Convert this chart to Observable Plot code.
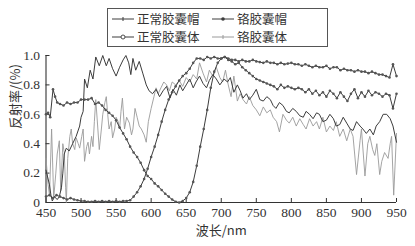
<!DOCTYPE html>
<html>
<head>
<meta charset="utf-8">
<script src="https://cdn.jsdelivr.net/npm/d3@7"></script>
<script src="https://cdn.jsdelivr.net/npm/@observablehq/plot@0.6"></script>
<style>
  body { margin: 0; background: #fff; }
  #wrap { width: 415px; height: 246px; position: relative; overflow: hidden; }
  #legend { position: relative; height: 48px; width: 415px; }
  #legendBox { position: absolute; left: 107px; top: 8px; width: 221px; height: 39px; border: 1px solid #555; box-sizing: border-box; }
  .item { position: absolute; display: flex; align-items: center; font-family: "Noto Sans CJK SC", sans-serif; font-size: 12.5px; color: #333; line-height: 14px; height: 14px; }
  .item svg { margin-right: 3px; }
</style>
</head>
<body>
<div id="wrap">
  <div id="legend"><div id="legendBox"></div></div>
  <div id="chart"></div>
</div>
<script>
// ---------- data ----------
const seriesNames = ["正常胶囊帽", "铬胶囊帽", "正常胶囊体", "铬胶囊体"];
const xTicks = [450, 500, 550, 600, 650, 700, 750, 800, 850, 900, 950];
const yTicks = [0, 0.2, 0.4, 0.6, 0.8, 1.0];

// 正常胶囊帽 (dark, noisy)
const capNormalWl = [450,452,455,457,459,462,466,469,472,474,476,479,483,488,493,498,500,503,505,509,513,517,521,526,531,536,540,545,550,555,560,564,568,571,574,578,583,588,593,597,602,607,612,617,622,627,631,636,641,645,650,655,660,664,669,674,679,683,688,693,698,704,709,713,718,723,727,731,736,740,745,750,755,760,765,770,774,778,783,788,793,797,802,807,812,817,821,826,831,836,840,845,850,855,860,864,869,874,879,884,888,893,898,902,907,912,917,921,926,931,936,941,945,950];
const capNormalR = [0.22,0.18,0.12,0.05,0.01,0.04,0.02,0.04,0.10,0.20,0.33,0.37,0.35,0.40,0.45,0.52,0.58,0.62,0.84,0.78,0.90,0.84,0.99,0.93,1.00,0.93,0.98,0.91,0.86,0.92,0.97,1.00,0.95,0.87,0.98,0.90,0.96,0.88,0.80,0.76,0.74,0.77,0.72,0.76,0.79,0.71,0.77,0.73,0.80,0.76,0.80,0.84,0.78,0.82,0.86,0.81,0.78,0.83,0.87,0.84,0.80,0.84,0.82,0.85,0.75,0.80,0.76,0.71,0.74,0.70,0.73,0.77,0.70,0.69,0.72,0.70,0.66,0.64,0.68,0.66,0.62,0.61,0.64,0.62,0.59,0.58,0.62,0.60,0.57,0.61,0.60,0.55,0.56,0.60,0.57,0.52,0.53,0.58,0.54,0.50,0.49,0.55,0.52,0.50,0.47,0.50,0.46,0.52,0.55,0.60,0.60,0.57,0.52,0.41];

// 铬胶囊帽 (dotted markers)
const capCrWl = [450,453,456,460,463,466,470,475,480,485,490,495,500,505,510,515,520,525,530,535,540,545,550,555,560,565,570,575,580,585,590,595,600,605,610,615,620,625,630,635,640,645,650,655,660,665,670,675,680,685,690,695,700,705,710,715,720,725,730,735,740,745,750,755,760,765,770,775,780,785,790,795,800,805,810,815,820,825,830,835,840,845,850,855,860,865,870,875,880,885,890,895,900,905,910,915,920,925,930,935,940,945,950];
const capCrR = [0.60,0.61,0.58,0.77,0.72,0.68,0.67,0.66,0.68,0.67,0.68,0.68,0.70,0.70,0.70,0.71,0.67,0.68,0.66,0.63,0.61,0.59,0.56,0.51,0.47,0.43,0.38,0.34,0.31,0.27,0.22,0.18,0.16,0.13,0.11,0.085,0.06,0.04,0.02,0.005,0.0,0.01,0.03,0.07,0.14,0.25,0.38,0.50,0.63,0.78,0.89,0.95,0.98,0.99,0.97,0.96,0.94,0.95,0.92,0.90,0.88,0.86,0.84,0.83,0.82,0.81,0.80,0.79,0.77,0.80,0.78,0.79,0.78,0.77,0.78,0.77,0.75,0.77,0.74,0.76,0.73,0.75,0.72,0.76,0.74,0.71,0.75,0.72,0.69,0.74,0.77,0.71,0.75,0.72,0.76,0.73,0.75,0.74,0.72,0.74,0.73,0.64,0.74];

// 正常胶囊体 (circle markers)
const bodyNormalWl = [450,455,460,465,470,475,480,485,490,495,500,505,510,515,520,525,530,535,540,545,550,555,560,565,570,575,580,585,590,595,600,605,610,615,620,625,630,635,640,645,650,655,660,665,670,675,680,685,690,695,700,705,710,715,720,725,730,735,740,745,750,755,760,765,770,775,780,785,790,795,800,805,810,815,820,825,830,835,840,845,850,855,860,865,870,875,880,885,890,895,900,905,910,915,920,925,930,935,940,945,950];
const bodyNormalR = [0.04,0.05,0.03,0.05,0.04,0.03,0.02,0.03,0.02,0.015,0.01,0.01,0.005,0.005,0.01,0.005,0.01,0.005,0.01,0.005,0.01,0.005,0.01,0.01,0.015,0.04,0.07,0.11,0.16,0.23,0.31,0.38,0.46,0.55,0.63,0.70,0.75,0.79,0.83,0.86,0.88,0.91,0.95,0.98,0.98,0.97,0.99,0.98,0.99,0.98,0.98,0.99,0.98,0.97,0.97,0.96,0.97,0.96,0.96,0.97,0.96,0.955,0.95,0.96,0.95,0.95,0.94,0.95,0.94,0.945,0.95,0.94,0.94,0.93,0.94,0.93,0.92,0.93,0.92,0.92,0.93,0.91,0.92,0.92,0.90,0.91,0.90,0.90,0.89,0.90,0.89,0.89,0.88,0.89,0.88,0.87,0.87,0.86,0.85,0.94,0.86];

// 铬胶囊体 (light, noisy)
const bodyCrWl = [450,453,455,458,461,464,466,469,471,474,476,478,479,481,484,486,488,491,493,496,498,501,503,505,508,510,512,515,517,519,521,524,526,529,531,534,536,538,540,543,545,548,550,553,555,557,559,562,565,569,572,574,577,580,583,586,590,593,596,600,604,607,610,614,618,622,626,630,635,640,645,650,655,660,665,669,674,679,683,688,693,698,702,706,710,714,718,723,727,731,736,740,745,750,755,760,765,770,774,779,783,788,793,797,802,807,812,817,821,826,831,836,840,845,850,855,860,864,869,874,879,884,888,893,898,900,905,909,912,916,919,922,926,929,933,938,941,943,946,950];
const bodyCrR = [0.30,0.12,0.05,0.50,0.03,0.20,0.33,0.42,0.08,0.40,0.34,0.10,0.0,0.30,0.45,0.50,0.40,0.36,0.44,0.40,0.37,0.45,0.50,0.28,0.38,0.41,0.33,0.45,0.38,0.55,0.70,0.50,0.36,0.50,0.60,0.68,0.72,0.60,0.50,0.55,0.44,0.50,0.58,0.55,0.50,0.62,0.71,0.50,0.58,0.54,0.46,0.50,0.64,0.58,0.52,0.50,0.46,0.41,0.55,0.64,0.72,0.78,0.74,0.78,0.82,0.80,0.76,0.82,0.80,0.83,0.79,0.85,0.82,0.87,0.84,0.95,0.88,0.82,0.90,0.86,0.92,0.85,0.82,0.90,0.80,0.72,0.86,0.69,0.74,0.70,0.67,0.72,0.66,0.63,0.59,0.65,0.61,0.63,0.58,0.55,0.48,0.60,0.56,0.54,0.58,0.52,0.57,0.53,0.50,0.57,0.52,0.55,0.50,0.58,0.48,0.52,0.49,0.55,0.45,0.50,0.42,0.50,0.45,0.19,0.42,0.50,0.18,0.40,0.45,0.36,0.32,0.40,0.19,0.28,0.34,0.30,0.40,0.45,0.05,0.47];

// ---------- build tables ----------
const toRows = (wl, r) => wl.map((w, i) => ({wl: w, r: r[i]}));
const capNormal = toRows(capNormalWl, capNormalR);
const capCr = toRows(capCrWl, capCrR);
const bodyNormal = toRows(bodyNormalWl, bodyNormalR);
const bodyCr = toRows(bodyCrWl, bodyCrR);

const dark = "#3c3c3c", light = "#9a9a9a";
const serif = "'Liberation Serif', 'DejaVu Serif', serif";
const cjk = "'Noto Sans CJK SC', sans-serif";

const chart = Plot.plot({
  width: 415,
  height: 198,
  marginTop: 7,
  marginBottom: 44,
  marginLeft: 45.5,
  marginRight: 19,
  style: {fontFamily: serif, fontSize: "13.5px", color: "#333", background: "#fff"},
  x: {domain: [450, 950]},
  y: {domain: [0, 1]},
  marks: [
    Plot.axisX({ticks: xTicks, tickSize: -4, tickPadding: 9, label: null, tickFormat: d => String(d), stroke: "#333"}),
    Plot.axisY({ticks: yTicks, tickSize: -4, tickPadding: 10, label: null, tickFormat: d => d === 0 ? "0" : d.toFixed(1), stroke: "#333"}),
    Plot.ruleY([0], {stroke: "#333", strokeWidth: 1.1}),
    Plot.ruleX([450], {stroke: "#333", strokeWidth: 1.1}),
    Plot.lineY(bodyCr, {x: "wl", y: "r", stroke: light, strokeWidth: 0.9}),
    Plot.lineY(capNormal, {x: "wl", y: "r", stroke: dark, strokeWidth: 1}),
    Plot.lineY(bodyNormal, {x: "wl", y: "r", stroke: dark, strokeWidth: 1}),
    Plot.dot(bodyNormal, {x: "wl", y: "r", r: 1.3, fill: "#555", stroke: null}),
    Plot.lineY(capCr, {x: "wl", y: "r", stroke: dark, strokeWidth: 1}),
    Plot.dot(capCr, {x: "wl", y: "r", r: 1.3, fill: "#555", stroke: null}),
    Plot.text(["波长/nm"], {frameAnchor: "bottom", lineAnchor: "middle", dy: 28, fontFamily: cjk, fontSize: 13, fill: "#333"}),
    Plot.text(["反射率/(%)"], {frameAnchor: "left", lineAnchor: "middle", rotate: -90, dx: -30, fontFamily: cjk, fontSize: 13, fill: "#333"})
  ]
});
document.getElementById("chart").appendChild(chart);

// ---------- legend ----------
const legendSymbols = {
  "正常胶囊帽": {stroke: dark, marker: "tick"},
  "铬胶囊帽": {stroke: dark, marker: "dot"},
  "正常胶囊体": {stroke: dark, marker: "circle"},
  "铬胶囊体": {stroke: light, marker: "tick"}
};
const legendPos = [[4, 3], [104, 3], [4, 21], [104, 21]];
const box = document.getElementById("legendBox");
seriesNames.forEach((name, i) => {
  const s = legendSymbols[name];
  const el = document.createElement("div");
  el.className = "item";
  el.style.left = legendPos[i][0] + "px";
  el.style.top = legendPos[i][1] + "px";
  let m = "";
  if (s.marker === "tick") m = `<line x1="11" x2="11" y1="5" y2="9" stroke="${s.stroke}" stroke-width="1"/>`;
  if (s.marker === "dot") m = `<circle cx="11" cy="7" r="1.8" fill="${s.stroke}"/>`;
  if (s.marker === "circle") m = `<circle cx="11" cy="7" r="2" fill="#fff" stroke="${s.stroke}" stroke-width="0.9"/>`;
  el.innerHTML = `<svg width="22" height="14"><line x1="0" x2="22" y1="7" y2="7" stroke="${s.stroke}" stroke-width="1"/>${m}</svg><span>${name}</span>`;
  box.appendChild(el);
});
</script>
</body>
</html>
